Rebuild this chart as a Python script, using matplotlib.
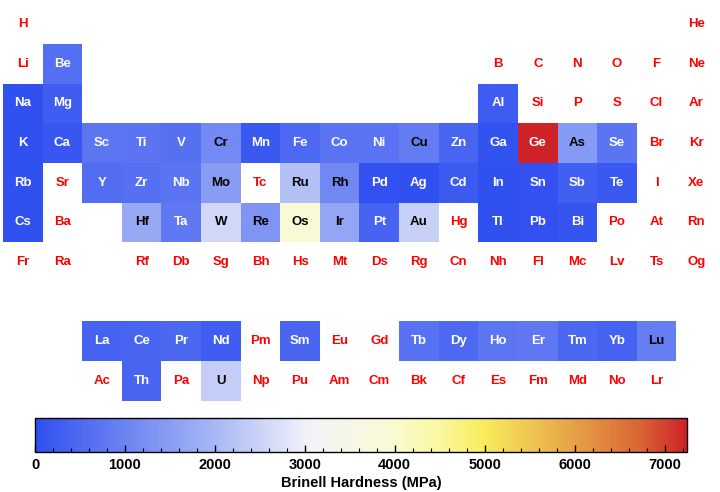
import numpy as np
import matplotlib
matplotlib.use("Agg")
import matplotlib.pyplot as plt
from matplotlib.colors import LinearSegmentedColormap, Normalize
from matplotlib.patches import Rectangle
from matplotlib.cm import ScalarMappable

plt.rcParams['font.family'] = ['Liberation Sans', 'DejaVu Sans']
plt.rcParams['font.weight'] = 'bold'

# Elementos en orden de número atómico
symbols = ("H He Li Be B C N O F Ne Na Mg Al Si P S Cl Ar K Ca Sc Ti V Cr Mn Fe Co Ni Cu Zn "
           "Ga Ge As Se Br Kr Rb Sr Y Zr Nb Mo Tc Ru Rh Pd Ag Cd In Sn Sb Te I Xe Cs Ba "
           "La Ce Pr Nd Pm Sm Eu Gd Tb Dy Ho Er Tm Yb Lu Hf Ta W Re Os Ir Pt Au Hg Tl Pb "
           "Bi Po At Rn Fr Ra Ac Th Pa U Np Pu Am Cm Bk Cf Es Fm Md No Lr Rf Db Sg Bh Hs "
           "Mt Ds Rg Cn Nh Fl Mc Lv Ts Og").split()

# Dureza Brinell (MPa) de los elementos con dato
hard_symbols = ["Be", "Na", "Mg", "Al", "K", "Ca", "Sc", "Ti", "V", "Cr", "Mn", "Fe", "Co",
                "Ni", "Cu", "Zn", "Ga", "Ge", "As", "Se", "Rb", "Y", "Zr", "Nb", "Mo", "Ru",
                "Rh", "Pd", "Ag", "Cd", "In", "Sn", "Sb", "Te", "Cs", "Hf", "Ta", "W", "Re",
                "Os", "Ir", "Pt", "Au", "Tl", "Pb", "Bi", "La", "Ce", "Pr", "Nd", "Sm", "Tb",
                "Dy", "Ho", "Er", "Tm", "Yb", "Lu", "Th", "U"]
hard_values = [600, 0.69, 260, 245, 0.363, 167, 750, 716, 628, 1120, 196, 490, 700,
               700, 874, 412, 60, 7250, 1440, 736, 0.216, 589, 650, 736, 1500, 2160,
               1100, 37.3, 24.5, 203, 8.83, 51, 294, 180, 0.14, 1700, 800, 2570, 1320,
               3920, 1670, 392, 2450, 26.4, 38.3, 94.2, 363, 412, 481, 265, 441, 677,
               500, 746, 814, 471, 343, 893, 400, 2400]
hardness = dict(zip(hard_symbols, hard_values))


def posicion(z):
    """Devuelve (fila, columna) empezando en 0 para el número atómico z."""
    if 57 <= z <= 71:
        return 8, 2 + (z - 57)
    if 89 <= z <= 103:
        return 9, 2 + (z - 89)
    starts = [1, 3, 11, 19, 37, 55, 87]
    period = max(i for i, s in enumerate(starts) if z >= s)
    k = z - starts[period]
    if period == 0:
        return 0, 0 if k == 0 else 17
    if period in (1, 2):
        return period, k if k < 2 else k + 10
    if period in (3, 4):
        return period, k
    # periodos 6 y 7
    if k < 2:
        return period, k
    return period, z - (72 if period == 5 else 104) + 3


cmap = LinearSegmentedColormap.from_list(
    "bwyr",
    [(0.0, "#3050F0"), (0.28, "#AAB9F5"), (0.42, "#F2F3FA"), (0.55, "#FAFAD2"),
     (0.62, "#FAF8A0"), (0.69, "#F8EC5C"), (0.83, "#E6A046"), (0.93, "#DA6434"),
     (1.0, "#CD2328")])
vmax = 7250
norm = Normalize(0, vmax)

fig = plt.figure(figsize=(7.2, 4.92), dpi=100)
ax = fig.add_axes([3 / 720, (492 - 400.7) / 492, 713 / 720, 396.3 / 492])
ax.set_xlim(0, 18)
ax.set_ylim(10, 0)
ax.axis("off")

for z, sym in enumerate(symbols, start=1):
    row, col = posicion(z)
    v = hardness.get(sym)
    if v is None:
        tcolor = "#FF0000"
    else:
        ax.add_patch(Rectangle((col, row), 1, 1, facecolor=cmap(norm(v)),
                               edgecolor="none"))
        tcolor = "black" if 850 < v < 6000 else "white"
    ax.text(col + 0.5, row + 0.5, sym, ha="center", va="center",
            fontsize=9.5, fontweight="bold", color=tcolor)

# Barra de color
cax = fig.add_axes([35 / 720, (492 - 452) / 492, 652 / 720, 34 / 492])
cb = fig.colorbar(ScalarMappable(norm=norm, cmap=cmap), cax=cax, orientation="horizontal")
cb.set_ticks(np.arange(0, 7001, 1000))
cb.ax.set_xticks(np.arange(0, 7201, 200), minor=True)
cb.ax.tick_params(which="major", direction="in", length=5, width=1, labelsize=10.5, pad=4)
cb.ax.tick_params(which="minor", direction="in", length=3, width=0.8)
for lbl in cb.ax.get_xticklabels():
    lbl.set_fontweight("bold")
cb.outline.set_linewidth(1)
cb.set_label("Brinell Hardness (MPa)", fontsize=10.5, fontweight="bold", labelpad=3)

fig.savefig("out.png", dpi=100)
